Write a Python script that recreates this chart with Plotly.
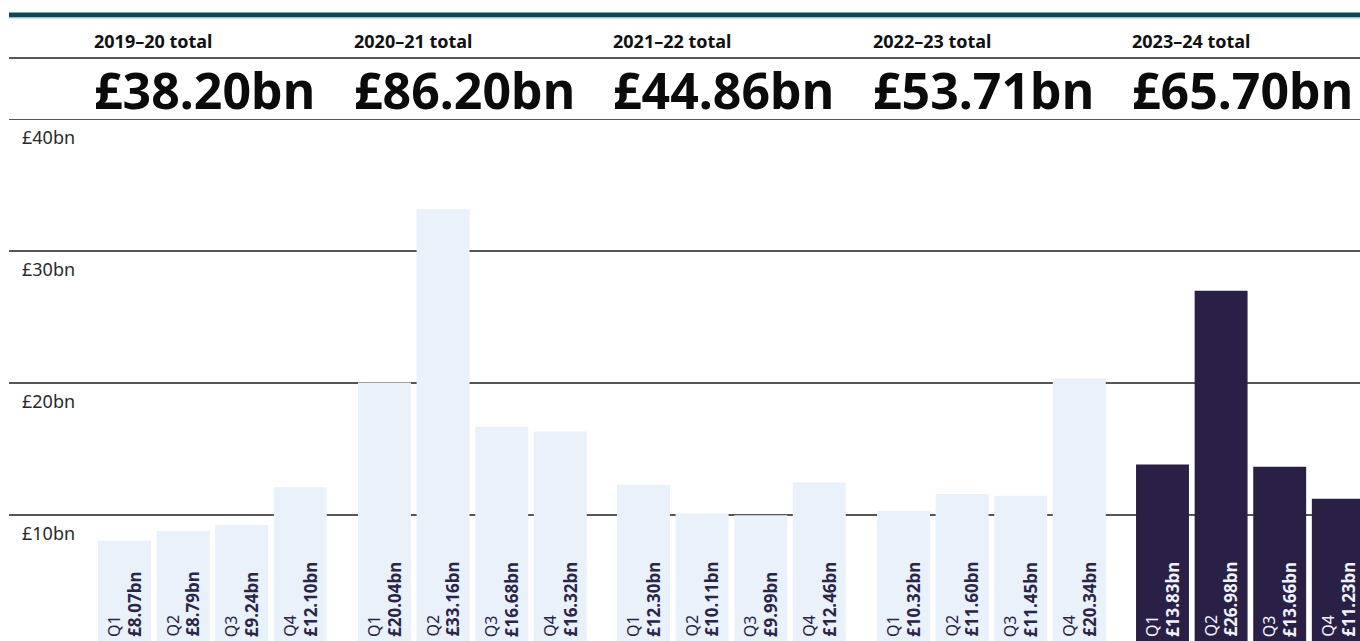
import plotly.graph_objects as go

# ---- data ----
years = ["2019–20", "2020–21", "2021–22", "2022–23", "2023–24"]
year_totals = [38.20, 86.20, 44.86, 53.71, 65.70]
quarters = ["Q1", "Q2", "Q3", "Q4"]
q_2019_20 = [8.07, 8.79, 9.24, 12.10]
q_2020_21 = [20.04, 33.16, 16.68, 16.32]
q_2021_22 = [12.30, 10.11, 9.99, 12.46]
q_2022_23 = [10.32, 11.60, 11.45, 20.34]
q_2023_24 = [13.83, 26.98, 13.66, 11.23]
series = [q_2019_20, q_2020_21, q_2021_22, q_2022_23, q_2023_24]
y_ticks = [10, 20, 30, 40]
y_tick_labels = ["£10bn", "£20bn", "£30bn", "£40bn"]

# ---- style ----
W, H = 1360, 641
PLOT_TOP, PLOT_BOTTOM = 119, 641
LIGHT = "#e9f1fb"
DARK = "#2a1f44"
LIGHT_TEXT = "#2b2548"
DARK_TEXT = "#eef2fa"
FONT = "Noto Sans"


def px(p):
    return p / W


def py(p):
    return (PLOT_BOTTOM - p) / (PLOT_BOTTOM - PLOT_TOP)


group_left = [95.2, 355.2, 614.2, 874.2, 1133.2]
cat_w = 58.6

fig = go.Figure()
layout_axes = {}
annotations = []
for g, vals in enumerate(series):
    ax_name = "x" if g == 0 else f"x{g+1}"
    key = "xaxis" if g == 0 else f"xaxis{g+1}"
    last = g == len(series) - 1
    color = DARK if last else LIGHT
    tcolor = DARK_TEXT if last else LIGHT_TEXT
    fig.add_trace(go.Bar(x=quarters, y=vals, xaxis=ax_name, yaxis="y",
                         marker=dict(color=color, line=dict(width=0)),
                         hoverinfo="skip", showlegend=False))
    left = group_left[g]
    right = min(left + 4 * cat_w, W)
    rng_hi = -0.5 + (right - left) / cat_w
    layout_axes[key] = dict(domain=[px(left), px(right)], anchor="y",
                            type="category", range=[-0.5, rng_hi],
                            visible=False, fixedrange=True)
    for q, v in zip(quarters, vals):
        annotations.append(dict(
            x=q, xref=ax_name, y=0, yref="paper", xanchor="center", yanchor="bottom",
            yshift=2, textangle=-90, align="left", showarrow=False,
            text=f"{q}<br><b><span style='font-size:17px'>£{v:.2f}bn</span></b>",
            font=dict(family=FONT, size=16, color=tcolor)))
    # header
    annotations.append(dict(
        x=px(group_left[g] - 3), xref="paper", y=py(41), yref="paper",
        xanchor="left", yanchor="middle", showarrow=False,
        text=f"<b>{years[g]} total</b>",
        font=dict(family=FONT, size=18, color="#111111")))
    annotations.append(dict(
        x=px(group_left[g] - 3), xref="paper", y=py(90), yref="paper",
        xanchor="left", yanchor="middle", showarrow=False,
        text=f"<b>£{year_totals[g]:.2f}bn</b>",
        font=dict(family=FONT, size=50, color="#0b0b0b")))

for t, lab in zip(y_ticks, y_tick_labels):
    annotations.append(dict(
        x=px(20), xref="paper", y=t, yref="y", yshift=-18,
        xanchor="left", yanchor="middle", showarrow=False, text=lab,
        font=dict(family=FONT, size=18, color="#2a2a2a")))

shapes = []
for t in y_ticks:
    shapes.append(dict(type="line", xref="paper", yref="y", x0=px(9), x1=1,
                       y0=t, y1=t, layer="below",
                       line=dict(color="#1e1e1e", width=1.3)))
shapes.append(dict(type="line", xref="paper", yref="paper", x0=px(9), x1=1,
                   y0=py(58), y1=py(58), line=dict(color="#1e1e1e", width=1.3)))
shapes.append(dict(type="rect", xref="paper", yref="paper", x0=px(9), x1=1,
                   y0=py(17.4), y1=py(12.6), line=dict(width=0),
                   fillcolor="#0b4853"))
shapes.append(dict(type="line", xref="paper", yref="paper", x0=px(9), x1=1,
                   y0=py(18), y1=py(18), line=dict(color="#b9cfd3", width=1)))

# zero sits 6px below the visible bottom of the chart
zero_px = 647
val_per_px = 10 / 132.0
y_lo = (zero_px - PLOT_BOTTOM) * val_per_px

fig.update_layout(
    width=W, height=H,
    margin=dict(l=0, r=0, t=PLOT_TOP, b=0, pad=0),
    paper_bgcolor="white", plot_bgcolor="rgba(0,0,0,0)",
    bargap=0.097,
    yaxis=dict(range=[y_lo, 40], visible=False, fixedrange=True),
    annotations=annotations, shapes=shapes,
    font=dict(family=FONT),
    **layout_axes,
)

fig.write_html(
    "out.html",
    config={"displayModeBar": False},
    post_script="document.body.style.margin='0';document.body.style.overflow='hidden';",
)
